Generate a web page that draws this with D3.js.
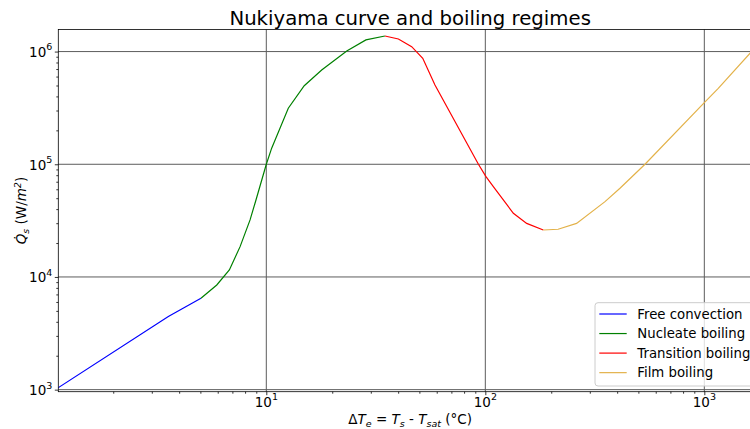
<!DOCTYPE html>
<html>
<head>
<meta charset="utf-8">
<script src="https://cdn.jsdelivr.net/npm/d3@7"></script>
<style>
  body { margin: 0; background: #fff; overflow: hidden; }
  svg { display: block; font-family: "DejaVu Sans", sans-serif; }
</style>
</head>
<body>
<svg width="750" height="429"></svg>
<script>
// regimes and their (dT, Q) points
const regimes = ["Free convection", "Nucleate boiling", "Transition boiling", "Film boiling"];

const freeDT = [1, 3.57, 5.03];
const freeQ = [900, 4450, 6470];

const nucleateDT = [5.03, 5.94, 6.78, 7.59, 8.43, 8.97, 10, 10.58, 12.6, 14.9, 17.9, 23.3, 28.5, 34.8];
const nucleateQ = [6470, 8490, 11530, 18580, 32070, 48200, 1.0e5, 1.39e5, 3.14e5, 4.98e5, 6.87e5, 1.01e6, 1.27e6, 1.374e6];

const transitionDT = [34.8, 40.1, 46.1, 51.8, 58.9, 93, 100.7, 108.8, 134.3, 154.5, 184];
const transitionQ = [1.374e6, 1.294e6, 1.105e6, 8.73e5, 5.06e5, 1.0e5, 7.76e4, 6.33e4, 3.67e4, 2.99e4, 2.61e4];

const filmDT = [184, 215, 261, 352, 412, 536, 1000, 1158, 1618, 1700];
const filmQ = [2.61e4, 2.65e4, 2.99e4, 4.66e4, 6.13e4, 1.0e5, 3.52e5, 4.72e5, 9.66e5, 1.07e6];

const xTicks = [10, 100, 1000];
const yTicks = [1e3, 1e4, 1e5, 1e6];
const xLimits = [1.1225, 1834];
const yLimits = [959, 1.57e6];

const colors = ["#0000ff", "#008000", "#ff0000", "#e3b24a"];

const svg = d3.select("svg"),
  plot = { left: 58.3, right: 762, top: 29.5, bottom: 391.7 };

const x = d3.scaleLog().domain(xLimits).range([plot.left, plot.right]),
  y = d3.scaleLog().domain(yLimits).range([plot.bottom, plot.top]),
  color = d3.scaleOrdinal().domain(regimes).range(colors);

const series = [
  d3.zip(freeDT, freeQ),
  d3.zip(nucleateDT, nucleateQ),
  d3.zip(transitionDT, transitionQ),
  d3.zip(filmDT, filmQ)
];

// minor ticks 2..9 x 10^k inside the limits
const minor = (lim) => {
  const out = [];
  for (let k = -1; k <= 6; k++)
    for (let m = 2; m <= 9; m++) {
      const v = m * Math.pow(10, k);
      if (v >= lim[0] && v <= lim[1]) out.push(v);
    }
  return out;
};

// text with sub/superscripts through tspans
function rich(sel, parts) {
  let shift = 0;
  parts.forEach((p) => {
    const s = p.shift || 0;
    const t = sel.append("tspan").text(p.t).attr("dy", s - shift);
    shift = s;
    if (p.it) t.style("font-style", "italic");
    if (p.size) t.style("font-size", p.size + "px");
  });
}

// grid
const grid = svg.append("g").attr("stroke", "#5c5c5c").attr("stroke-width", 1);
grid.selectAll(".gx").data(xTicks).join("line")
  .attr("x1", (d) => x(d)).attr("x2", (d) => x(d))
  .attr("y1", plot.top).attr("y2", plot.bottom);
grid.selectAll(".gy").data(yTicks).join("line")
  .attr("x1", plot.left).attr("x2", plot.right)
  .attr("y1", (d) => y(d)).attr("y2", (d) => y(d));

// curves
svg.append("clipPath").attr("id", "clip").append("rect")
  .attr("x", plot.left).attr("y", plot.top)
  .attr("width", plot.right - plot.left).attr("height", plot.bottom - plot.top);

const line = d3.line().x((d) => x(d[0])).y((d) => y(d[1]));

svg.append("g").attr("clip-path", "url(#clip)")
  .selectAll("path").data(series).join("path")
  .attr("d", line)
  .attr("fill", "none")
  .attr("stroke", (d, i) => color(regimes[i]))
  .attr("stroke-width", 1.2);

// axes
const xAxis = svg.append("g").attr("transform", `translate(0,${plot.bottom})`);
xAxis.call(d3.axisBottom(x).tickValues(xTicks).tickSize(3.5).tickFormat(""));
xAxis.append("g").call(d3.axisBottom(x).tickValues(minor(xLimits)).tickSize(2).tickFormat(""));

const yAxis = svg.append("g").attr("transform", `translate(${plot.left},0)`);
yAxis.call(d3.axisLeft(y).tickValues(yTicks).tickSize(3.5).tickFormat(""));
yAxis.append("g").call(d3.axisLeft(y).tickValues(minor(yLimits)).tickSize(2).tickFormat(""));

svg.selectAll(".domain").remove();
svg.selectAll(".tick line").attr("stroke", "#000").attr("stroke-width", 0.8);

svg.append("rect")
  .attr("x", plot.left).attr("y", plot.top)
  .attr("width", plot.right - plot.left).attr("height", plot.bottom - plot.top)
  .attr("fill", "none").attr("stroke", "#000").attr("stroke-width", 0.8);

// tick labels
svg.append("g").selectAll("text").data(xTicks).join("text")
  .attr("x", (d) => x(d)).attr("y", 406.8)
  .attr("text-anchor", "middle").attr("font-size", 13.5)
  .each(function (d) {
    rich(d3.select(this), [{ t: "10" }, { t: String(Math.round(Math.log10(d))), shift: -6.5, size: 9.5 }]);
  });

svg.append("g").selectAll("text").data(yTicks).join("text")
  .attr("x", 52.3).attr("y", (d) => y(d) + 5.4)
  .attr("text-anchor", "end").attr("font-size", 13.5)
  .each(function (d) {
    rich(d3.select(this), [{ t: "10" }, { t: String(Math.round(Math.log10(d))), shift: -6.5, size: 9.5 }]);
  });

// title and axis labels
svg.append("text")
  .attr("x", (plot.left + plot.right) / 2).attr("y", 25)
  .attr("text-anchor", "middle").attr("font-size", 19.7)
  .text("Nukiyama curve and boiling regimes");

const xl = svg.append("text")
  .attr("x", (plot.left + plot.right) / 2).attr("y", 424)
  .attr("text-anchor", "middle").attr("font-size", 13.5);
rich(xl, [
  { t: "Δ" }, { t: "T", it: true }, { t: "e", it: true, shift: 3, size: 9.5 },
  { t: " = " }, { t: "T", it: true }, { t: "s", it: true, shift: 3, size: 9.5 },
  { t: " - " }, { t: "T", it: true }, { t: "sat", it: true, shift: 3, size: 9.5 },
  { t: " (°C)" }
]);

const yl = svg.append("text")
  .attr("transform", `translate(26,${(plot.top + plot.bottom) / 2}) rotate(-90)`)
  .attr("text-anchor", "middle").attr("font-size", 13.5);
rich(yl, [
  { t: "Q\u0307", it: true }, { t: "s", it: true, shift: 3, size: 9.5 },
  { t: " (W/" }, { t: "m", it: true }, { t: "2", it: true, shift: -5.5, size: 9.5 },
  { t: ")" }
]);

// legend
const legend = svg.append("g").attr("transform", "translate(595,302.7)");
legend.append("rect")
  .attr("width", 165).attr("height", 83.3).attr("rx", 3)
  .attr("fill", "#fff").attr("fill-opacity", 0.8)
  .attr("stroke", "#ccc").attr("stroke-width", 1);

const item = legend.selectAll(".item").data(regimes).join("g")
  .attr("transform", (d, i) => `translate(0,${11.3 + i * 19.55})`);
item.append("line")
  .attr("x1", 4.3).attr("x2", 31.7)
  .attr("stroke", (d) => color(d)).attr("stroke-width", 1.2);
item.append("text")
  .attr("x", 42.3).attr("y", 4.8).attr("font-size", 13.3)
  .text((d) => d);
</script>
</body>
</html>
